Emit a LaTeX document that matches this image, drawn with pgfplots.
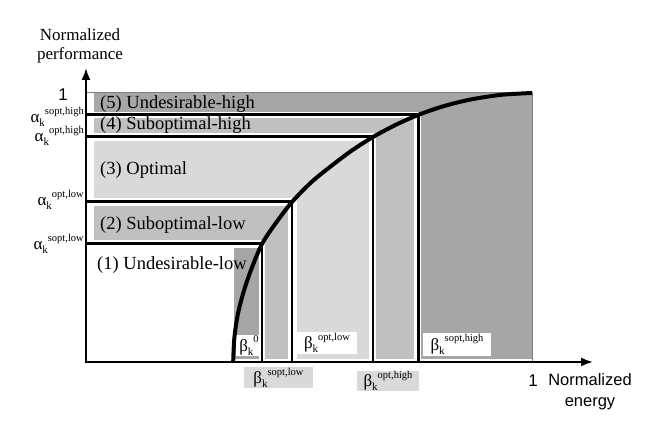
\documentclass[border=0pt]{standalone}
\usepackage{fontspec}
\setmainfont{Liberation Serif}
\setsansfont{Liberation Sans}
\usepackage{pgfplots}
\pgfplotsset{compat=1.18}
\usetikzlibrary{arrows.meta}

\definecolor{dk}{HTML}{A6A6A6}
\definecolor{md}{HTML}{C0C0C0}
\definecolor{lt}{HTML}{D9D9D9}

% symbol with subscript k followed by a raised superscript
\newcommand{\sym}[3]{#1\raisebox{-4pt}{\fontsize{11}{11}\selectfont #2}\raisebox{8.5pt}{\fontsize{10.5}{10.5}\selectfont #3}}

\tikzset{
    region/.style={font=\fontsize{18.5}{20}\selectfont, anchor=west, inner sep=0pt},
    alab/.style={font=\fontsize{17}{17}\selectfont, anchor=base east, inner sep=0pt},
    blab/.style={font=\fontsize{17}{17}\selectfont, inner sep=0pt},
}

\begin{document}
\begin{tikzpicture}
\begin{axis}[
    hide axis, scale only axis,
    width=654pt, height=424pt,
    xmin=-0.1928, xmax=1.2735,
    ymin=-0.2305, ymax=1.3457,
    clip=false,
]
\path (rel axis cs:0,0) rectangle (rel axis cs:1,1);

% regions
\addplot[fill=dk, draw=none] coordinates {(0.018,1.0) (1.0,1.0) (1.0,0.0112) (0.7511,0.0112) (0.7511,0.9294) (0.018,0.9294)} -- cycle;
\addplot[fill=md, draw=none] coordinates {(0.018,0.9071) (0.7354,0.9071) (0.7354,0.0112) (0.6502,0.0112) (0.6502,0.8513) (0.018,0.8513)} -- cycle;
\addplot[fill=lt, draw=none] coordinates {(0.018,0.8216) (0.6345,0.8216) (0.6345,0.0112) (0.4731,0.0112) (0.4731,0.6097) (0.018,0.6097)} -- cycle;
\addplot[fill=md, draw=none] coordinates {(0.018,0.5799) (0.4529,0.5799) (0.4529,0.0112) (0.4013,0.0112) (0.4013,0.4535) (0.018,0.4535)} -- cycle;
\addplot[fill=dk, draw=none] coordinates {(0.3318,0.4238) (0.3879,0.4238) (0.3879,0.0112) (0.3318,0.0112)} -- cycle;
\addplot[gray, line width=1pt] coordinates {(0,1) (1,1) (1,0)};

% label boxes on the energy axis
\node[blab, fill=white, minimum width=26pt, minimum height=21pt] at (axis cs:0.3655,0.0620) {\sym{β}{k}{0}};
\node[blab, fill=white, minimum width=60pt, minimum height=22pt] at (axis cs:0.5404,0.0706) {\sym{β}{k}{opt,low}};
\node[blab, fill=white, minimum width=68pt, minimum height=23pt] at (axis cs:0.8318,0.0651) {\sym{β}{k}{sopt,high}};
\node[blab, fill=lt, minimum width=69pt, minimum height=21pt] at (axis cs:0.4316,-0.0595) {\sym{β}{k}{sopt,low}};
\node[blab, fill=lt, minimum width=62pt, minimum height=20pt] at (axis cs:0.6771,-0.0706) {\sym{β}{k}{opt,high}};

% thresholds
\addplot[black, line width=3pt] coordinates {(0,0.9182) (0.7444,0.9182)};
\addplot[black, line width=3pt] coordinates {(0,0.8364) (0.6435,0.8364)};
\addplot[black, line width=3pt] coordinates {(0,0.5948) (0.4619,0.5948)};
\addplot[black, line width=3pt] coordinates {(0,0.4387) (0.3946,0.4387)};
\addplot[black, line width=2pt] coordinates {(0.3946,0.4387) (0.3946,0)};
\addplot[black, line width=2pt] coordinates {(0.4619,0.5948) (0.4619,0)};
\addplot[black, line width=2pt] coordinates {(0.6435,0.8364) (0.6435,0)};
\addplot[black, line width=3pt] coordinates {(0.7444,0.9182) (0.7444,0)};

% performance curve
\addplot[black, line width=4pt, smooth] coordinates {
    (0.330,0.000) (0.3325,0.087) (0.340,0.174) (0.353,0.259) (0.370,0.342)
    (0.3946,0.4387) (0.425,0.515) (0.4619,0.5948) (0.505,0.668) (0.547,0.725)
    (0.595,0.785) (0.6435,0.8364) (0.695,0.882) (0.7444,0.9182) (0.800,0.950)
    (0.860,0.975) (0.930,0.993) (1.000,1.000)
};

% axes
\draw[black, line width=2pt, {Latex[length=12pt,width=9pt]}-{Latex[length=12pt,width=9pt]}]
    (axis cs:0,1.0929) -- (axis cs:0,0) -- (axis cs:1.1368,0);

% region names
\node[region] at (axis cs:0.0314,0.959) {(5) Undesirable-high};
\node[region] at (axis cs:0.0314,0.881) {(4) Suboptimal-high};
\node[region] at (axis cs:0.0314,0.714) {(3) Optimal};
\node[region] at (axis cs:0.0314,0.509) {(2) Suboptimal-low};
\node[region] at (axis cs:0.0247,0.361) {(1) Undesirable-low};

% performance thresholds
\node[alab] at (axis cs:-0.0045,0.8885) {\sym{α}{k}{sopt,high}};
\node[alab] at (axis cs:-0.0045,0.8178) {\sym{α}{k}{opt,high}};
\node[alab] at (axis cs:-0.0045,0.5799) {\sym{α}{k}{opt,low}};
\node[alab] at (axis cs:-0.0045,0.4164) {\sym{α}{k}{sopt,low}};

% axis titles
\node[align=center, font=\fontsize{17}{19}\selectfont] at (axis cs:-0.0135,1.1747) {Normalized\\performance};
\node[font=\sffamily\fontsize{17}{17}\selectfont] at (axis cs:-0.0516,0.9926) {1};
\node[font=\sffamily\fontsize{17}{17}\selectfont] at (axis cs:1.0022,-0.0706) {1};
\node[align=center, font=\sffamily\fontsize{16.5}{21}\selectfont] at (axis cs:1.1300,-0.1115) {Normalized\\energy};
\end{axis}
\end{tikzpicture}
\end{document}
